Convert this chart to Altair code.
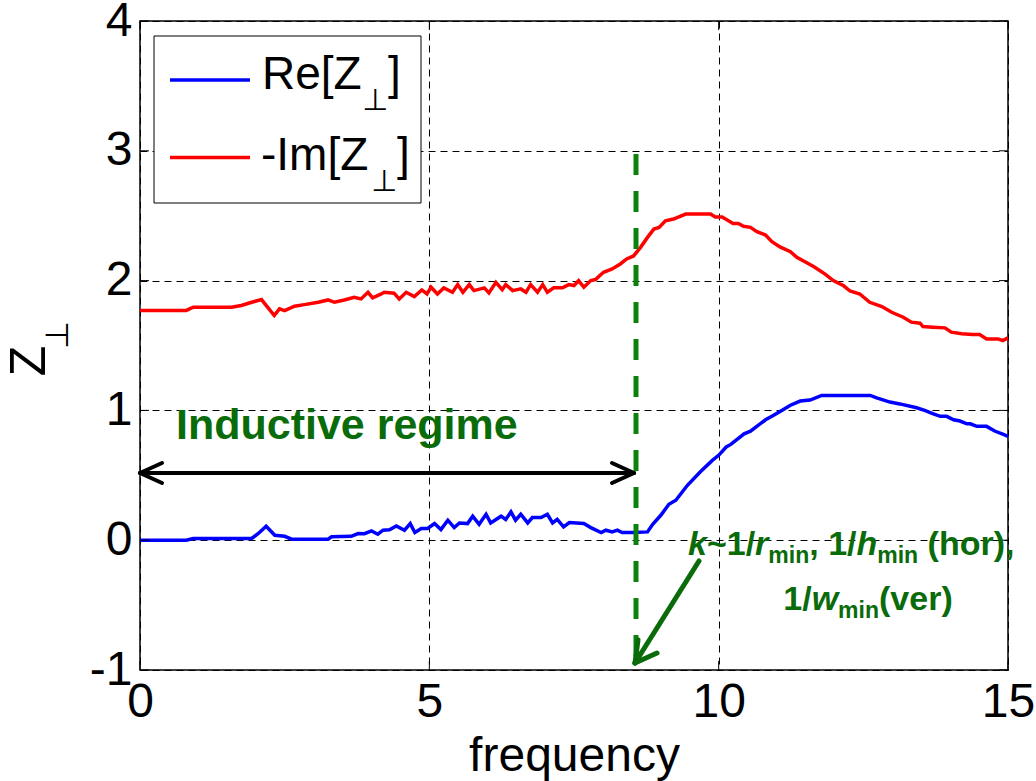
import altair as alt
import pandas as pd

# ---------------- data ----------------
red_freq = [0.0, 0.80, 0.92, 1.58, 1.75, 1.93, 2.10, 2.32, 2.41, 2.50,
            2.67, 2.84, 3.08, 3.25, 3.36, 3.53, 3.70, 3.82, 3.94, 4.02,
            4.17, 4.22, 4.39, 4.48, 4.60, 4.74, 4.87, 4.96, 5.03, 5.14,
            5.25, 5.40, 5.49, 5.58, 5.69, 5.77, 5.95, 6.03, 6.15, 6.26,
            6.32, 6.44, 6.58, 6.67, 6.75, 6.87, 6.96, 7.04, 7.15, 7.30,
            7.41, 7.50, 7.58, 7.67, 7.79, 7.87, 8.01, 8.16, 8.30, 8.41,
            8.53, 8.65, 8.77, 8.88, 8.97, 9.08, 9.22, 9.43, 9.68, 9.86,
            9.94, 10.06, 10.25, 10.34, 10.43, 10.55, 10.66, 10.81, 10.92, 11.06,
            11.24, 11.35, 11.64, 11.84, 11.98, 12.16, 12.27, 12.44, 12.61, 12.82,
            12.99, 13.19, 13.33, 13.48, 13.53, 13.70, 13.91, 14.02, 14.20, 14.39,
            14.51, 14.63, 14.83, 14.91, 15.0]
red_val = [1.77, 1.77, 1.795, 1.795, 1.808, 1.833, 1.854, 1.731, 1.782, 1.769,
           1.803, 1.815, 1.833, 1.851, 1.833, 1.851, 1.872, 1.859, 1.91, 1.867,
           1.897, 1.91, 1.903, 1.859, 1.91, 1.877, 1.928, 1.897, 1.949, 1.897,
           1.944, 1.91, 1.969, 1.91, 1.969, 1.923, 1.944, 1.905, 1.987, 1.93,
           1.969, 1.923, 1.936, 1.91, 1.969, 1.91, 1.969, 1.91, 1.944, 1.944,
           1.969, 1.962, 2.0, 1.949, 2.0, 2.008, 2.064, 2.09, 2.128, 2.167,
           2.19, 2.256, 2.333, 2.397, 2.41, 2.46, 2.474, 2.513, 2.513, 2.513,
           2.49, 2.49, 2.44, 2.44, 2.418, 2.41, 2.377, 2.351, 2.30, 2.26,
           2.223, 2.18, 2.108, 2.05, 2.0, 1.96, 1.92, 1.897, 1.833, 1.80,
           1.756, 1.718, 1.68, 1.672, 1.646, 1.641, 1.636, 1.603, 1.59, 1.585,
           1.585, 1.551, 1.551, 1.538, 1.559]

blue_freq = [0.0, 0.80, 0.92, 1.93, 2.04, 2.18, 2.33, 2.50, 2.62, 3.25,
             3.31, 3.65, 3.77, 3.88, 4.00, 4.11, 4.20, 4.31, 4.43, 4.57,
             4.67, 4.75, 4.86, 4.97, 5.09, 5.20, 5.32, 5.43, 5.52, 5.66,
             5.75, 5.86, 5.98, 6.06, 6.24, 6.32, 6.41, 6.49, 6.58, 6.70,
             6.78, 6.93, 7.04, 7.13, 7.21, 7.32, 7.42, 7.67, 7.79, 7.97,
             8.05, 8.16, 8.25, 8.33, 8.53, 8.77, 8.86, 9.00, 9.14, 9.26,
             9.46, 9.68, 9.89, 10.0, 10.13, 10.21, 10.44, 10.55, 10.81, 10.95,
             11.09, 11.24, 11.41, 11.58, 11.78, 12.62, 12.73, 12.96, 13.13, 13.42,
             13.56, 13.71, 13.83, 13.94, 14.06, 14.17, 14.29, 14.35, 14.46, 14.63,
             14.77, 14.92, 15.0]
blue_val = [0.0, 0.0, 0.013, 0.013, 0.05, 0.108, 0.038, 0.03, 0.008, 0.008,
            0.026, 0.03, 0.051, 0.05, 0.072, 0.046, 0.077, 0.08, 0.11, 0.077,
            0.128, 0.059, 0.09, 0.09, 0.128, 0.082, 0.154, 0.097, 0.133, 0.128,
            0.185, 0.123, 0.2, 0.133, 0.185, 0.16, 0.218, 0.154, 0.2, 0.133,
            0.174, 0.174, 0.2, 0.133, 0.16, 0.103, 0.136, 0.128, 0.097, 0.059,
            0.077, 0.064, 0.077, 0.059, 0.059, 0.064, 0.123, 0.192, 0.277, 0.308,
            0.423, 0.526, 0.615, 0.654, 0.718, 0.738, 0.82, 0.84, 0.928, 0.962,
            1.0, 1.04, 1.072, 1.08, 1.115, 1.115, 1.097, 1.064, 1.05, 1.02,
            1.0, 0.974, 0.954, 0.954, 0.928, 0.918, 0.897, 0.897, 0.877, 0.877,
            0.841, 0.815, 0.8]

x_ticks = [0, 5, 10, 15]
y_ticks = [-1, 0, 1, 2, 3, 4]
series_names = ["Re", "-Im"]
series_colors = ["#0000ff", "#ff0000"]

# annotation text pieces: (text, kind) kind in norm / ital / sub
note_line1 = [("k", "ital"), ("~1/", "norm"), ("r", "ital"), ("min", "sub"),
              (", 1/", "norm"), ("h", "ital"), ("min", "sub"), (" (hor),", "norm")]
note_line2 = [("1/", "norm"), ("w", "ital"), ("min", "sub"), ("(ver)", "norm")]

# ---------------- layout ----------------
LEFT, TOP, W, H = 140, 21, 868, 649
X0, X1, Y0, Y1 = 0, 15, -1, 4
FONT = "Liberation Sans"
GREEN_T = "#0a6b0a"
GREEN_L = "#0c820c"
MAIN, SUB = 34, 23

# Liberation Sans Bold advance widths (1/1000 em)
ADV = {"k": 556, "~": 584, "1": 556, "/": 278, "r": 389, "m": 889, "i": 278, "n": 611,
       ",": 278, " ": 278, "h": 611, "(": 333, "o": 611, ")": 333, "w": 778, "v": 556,
       "e": 556}


def fx(px):  # page pixel -> frequency units
    return (px - LEFT) / W * (X1 - X0) + X0


def fy(py):  # page pixel -> Z units
    return Y1 - (py - TOP) / H * (Y1 - Y0)


def adv(t, size):
    return sum(ADV[c] for c in t) / 1000 * size


def span(pieces):
    return sum(adv(t, SUB if k == "sub" else MAIN) for t, k in pieces)


def lay(pieces, x_start, base):
    rows, x = [], x_start
    for t, k in pieces:
        size = SUB if k == "sub" else MAIN
        lead = len(t) - len(t.lstrip(" "))
        x_txt = x + adv(" " * lead, size)
        rows.append({"f": fx(x_txt), "z": fy(base + (8 if k == "sub" else 0)), "t": t.strip(" "), "k": k})
        x += adv(t, size)
    return rows


xs = alt.Scale(domain=[X0, X1], nice=False, zero=False)
ys = alt.Scale(domain=[Y0, Y1], nice=False, zero=False)

df = pd.concat([
    pd.DataFrame({"f": blue_freq, "z": blue_val, "s": "Re"}),
    pd.DataFrame({"f": red_freq, "z": red_val, "s": "-Im"}),
])

lab_expr = "datum.value < 0 ? '-' + format(-datum.value, 'd') : format(datum.value, 'd')"
lines = alt.Chart(df).mark_line(strokeWidth=3.5).encode(
    x=alt.X("f:Q", scale=xs, axis=alt.Axis(values=x_ticks, labelExpr=lab_expr, title="frequency",
                                           grid=True, titlePadding=6)),
    y=alt.Y("z:Q", scale=ys, axis=alt.Axis(values=y_ticks, labelExpr=lab_expr, title=None, grid=True)),
    color=alt.Color("s:N", scale=alt.Scale(domain=series_names, range=series_colors), legend=None),
    detail="s:N",
)

# inward ticks (box style)
tx = (X1 - X0) * 9 / W
ty = (Y1 - Y0) * 9 / H
xt_b = alt.Chart(pd.DataFrame({"t": x_ticks})).mark_rule(color="black", strokeWidth=1).encode(
    x="t:Q", y=alt.datum(Y0), y2=alt.datum(Y0 + ty))
xt_t = alt.Chart(pd.DataFrame({"t": x_ticks})).mark_rule(color="black", strokeWidth=1).encode(
    x="t:Q", y=alt.datum(Y1), y2=alt.datum(Y1 - ty))
yt_l = alt.Chart(pd.DataFrame({"t": y_ticks})).mark_rule(color="black", strokeWidth=1).encode(
    y="t:Q", x=alt.datum(X0), x2=alt.datum(X0 + tx))
yt_r = alt.Chart(pd.DataFrame({"t": y_ticks})).mark_rule(color="black", strokeWidth=1).encode(
    y="t:Q", x=alt.datum(X1), x2=alt.datum(X1 - tx))

# green dashed vertical line
vline = alt.Chart(pd.DataFrame({"f": [fx(636)], "a": [fy(154)], "b": [fy(668)]})).mark_rule(
    color=GREEN_L, strokeWidth=5, strokeDash=[21, 16]).encode(x="f:Q", y="a:Q", y2="b:Q")

# arrows (segments)
blk = pd.DataFrame({
    "x": [fx(140), fx(140), fx(140), fx(634), fx(634)],
    "y": [fy(473), fy(473), fy(473), fy(473), fy(473)],
    "x2": [fx(634), fx(162), fx(162), fx(612), fx(612)],
    "y2": [fy(473), fy(463), fy(483), fy(463), fy(483)],
})
blk_arrow = alt.Chart(blk).mark_rule(color="black", strokeWidth=4, strokeCap="round").encode(
    x="x:Q", y="y:Q", x2="x2:Q", y2="y2:Q")
grn = pd.DataFrame({
    "x": [fx(699), fx(635), fx(635)],
    "y": [fy(561), fy(663), fy(663)],
    "x2": [fx(635), fx(638), fx(657)],
    "y2": [fy(663), fy(640), fy(653)],
})
grn_arrow = alt.Chart(grn).mark_rule(color=GREEN_T, strokeWidth=5, strokeCap="round").encode(
    x="x:Q", y="y:Q", x2="x2:Q", y2="y2:Q")


def text_layer(d, **kw):
    return alt.Chart(pd.DataFrame(d)).mark_text(**kw).encode(x="f:Q", y="z:Q", text="t:N")


inductive = text_layer({"f": [fx(176)], "z": [fy(439)], "t": ["Inductive regime"]},
                       font=FONT, fontSize=43, fontWeight="bold", color=GREEN_T,
                       align="left", baseline="alphabetic")

l1_start = 688
l2_start = 868 - span(note_line2) / 2
notes = pd.DataFrame(lay(note_line1, l1_start, 555) + lay(note_line2, l2_start, 610))
g_norm = text_layer(notes[notes.k == "norm"], font=FONT, fontSize=MAIN, fontWeight="bold",
                    color=GREEN_T, align="left", baseline="alphabetic")
g_ital = text_layer(notes[notes.k == "ital"], font=FONT, fontSize=MAIN, fontWeight="bold",
                    fontStyle="italic", color=GREEN_T, align="left", baseline="alphabetic")
g_sub = text_layer(notes[notes.k == "sub"], font=FONT, fontSize=SUB, fontWeight="bold",
                   color=GREEN_T, align="left", baseline="alphabetic")

# legend
leg_box = alt.Chart(pd.DataFrame({"a": [fx(154)], "b": [fx(421)], "c": [fy(36)], "d": [fy(203)]})).mark_rect(
    fill="white", stroke="black", strokeWidth=1).encode(x="a:Q", x2="b:Q", y="c:Q", y2="d:Q")
leg_lines = alt.Chart(pd.DataFrame({"a": [fx(170), fx(170)], "b": [fx(250), fx(250)],
                                    "c": [fy(80), fy(157.5)], "s": series_names})).mark_rule(
    strokeWidth=3.5).encode(x="a:Q", x2="b:Q", y="c:Q",
                            color=alt.Color("s:N", scale=alt.Scale(domain=series_names, range=series_colors),
                                            legend=None))
leg_txt = text_layer({"f": [fx(262), fx(388), fx(261), fx(397)],
                      "z": [fy(89), fy(89), fy(170), fy(170)],
                      "t": ["Re[Z", "]", "-Im[Z", "]"]},
                     font=FONT, fontSize=46, color="black", align="left", baseline="alphabetic")
leg_perp = text_layer({"f": [fx(375), fx(384)], "z": [fy(110), fy(191)], "t": ["⊥", "⊥"]},
                      font="DejaVu Sans", fontSize=30, color="black", align="center", baseline="alphabetic")

# y-axis title Z⊥ (rotated)
ytitle = text_layer({"f": [fx(30)], "z": [fy(361)], "t": ["Z"]},
                    font=FONT, fontSize=50, color="black", angle=270, align="center", baseline="middle")
yperp = text_layer({"f": [fx(58)], "z": [fy(335)], "t": ["⊥"]},
                   font="DejaVu Sans", fontSize=32, color="black", angle=270, align="center", baseline="middle")

chart = alt.layer(
    lines, xt_b, xt_t, yt_l, yt_r, vline, blk_arrow, grn_arrow,
    inductive, g_norm, g_ital, g_sub,
    leg_box, leg_lines, leg_txt, leg_perp, ytitle, yperp,
).properties(
    width=W, height=H,
    padding={"left": LEFT, "top": TOP, "right": 1036 - LEFT - W, "bottom": 781 - TOP - H},
    autosize=alt.AutoSizeParams(type="none"),
    background="white",
).configure_view(
    stroke="black", strokeWidth=1.5,
).configure_axis(
    domain=False, ticks=False,
    grid=True, gridColor="black", gridDash=[7, 5], gridWidth=1, gridOpacity=1,
    labelFont=FONT, labelFontSize=48, labelColor="black", labelPadding=8,
    labelFlush=False, labelOverlap=False, labelBound=False,
    titleFont=FONT, titleFontSize=48, titleColor="black", titleFontWeight="normal",
)

chart.save("out.html", embed_options={"renderer": "svg", "actions": False})
